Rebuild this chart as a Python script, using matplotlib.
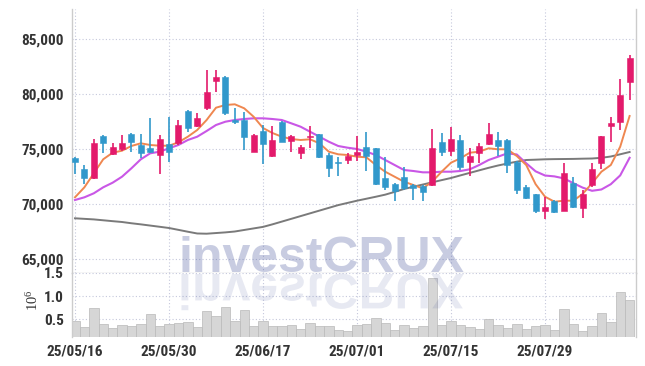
import matplotlib
matplotlib.use("Agg")
import matplotlib.pyplot as plt
import numpy as np
from matplotlib import font_manager
from matplotlib.font_manager import FontProperties
from matplotlib.textpath import TextPath
from matplotlib.patches import PathPatch
from matplotlib.transforms import Affine2D, IdentityTransform
from matplotlib.ticker import FuncFormatter

# ---------------- data ----------------
opens = [74150, 73150, 72390, 76210, 74520, 75000, 76360, 75390, 75120, 74450,
         75450, 75520, 78450, 77120, 78750, 81210, 81520, 77600, 77640, 74750,
         76650, 74390, 77480, 75730, 74660, 76060, 76340, 74450, 73800, 74000,
         74450, 75150, 75060, 72340, 71820, 72480, 71730, 71640, 71730, 75610,
         74820, 75820, 73850, 74610, 75450, 75820, 75820, 73850, 71570, 70910,
         69390, 70270, 69390, 71940, 69610, 71730, 73700, 77120, 77430, 81120]
highs = [74250, 73550, 75880, 76270, 75520, 76250, 76480, 76360, 77790, 76270,
         77880, 77640, 78550, 78250, 82180, 82180, 81600, 78750, 78340, 76360,
         77200, 77120, 77550, 76270, 75360, 77090, 76400, 74610, 74300, 74660,
         76210, 76570, 75100, 74300, 71900, 73340, 71820, 71700, 76820, 76430,
         77030, 76270, 75120, 75520, 77340, 76570, 75880, 73900, 71730, 70950,
         70610, 70360, 73750, 72480, 71270, 73750, 76200, 77880, 81340, 83550]
lows = [72730, 71820, 72300, 74660, 74450, 74850, 74750, 74150, 74610, 72730,
        73850, 75400, 76570, 77030, 78550, 80150, 78090, 77300, 74910, 74700,
        73600, 74300, 75600, 74750, 74060, 75060, 74200, 72430, 72550, 73610,
        73940, 73030, 71750, 71270, 70300, 71270, 70360, 70300, 71600, 74390,
        74390, 73090, 72570, 73700, 75360, 74360, 72850, 70910, 70500, 69210,
        68610, 69150, 69350, 69610, 68700, 71570, 73180, 75660, 76730, 79450]
closes = [73850, 72340, 75520, 75520, 75150, 75550, 75660, 74660, 74750, 75880,
          74750, 77180, 76880, 77850, 80150, 81520, 78250, 77500, 76120, 76270,
          75420, 75820, 75660, 76210, 75150, 76210, 74300, 73300, 73750, 74390,
          74700, 74390, 71790, 71520, 71210, 71480, 71500, 71120, 75060, 74750,
          75880, 73340, 74360, 75270, 76360, 75300, 73550, 71270, 70570, 69360,
          69750, 69300, 72790, 69750, 70910, 73150, 76180, 77340, 79910, 83250]
ma5 = [70610, 71518, 72790, 74064, 74664, 74845, 75273, 75518, 75364, 75300,
       75300, 75609, 76118, 76727, 77636, 78755, 79000, 79064, 78700, 77936,
       76909, 76455, 76118, 75909, 75818, 75882, 75518, 74755, 74518, 74455,
       74300, 74245, 73545, 72936, 72482, 72027, 71727, 71427, 72027, 72936,
       73755, 74155, 74664, 74755, 75064, 74973, 74973, 74360, 73545, 71800,
       70664, 70209, 70300, 70300, 70909, 71882, 72936, 73545, 75209, 78000]
ma20 = [70364, 70609, 70973, 71518, 71936, 72482, 73245, 74064, 74609, 74755,
        75064, 75364, 75818, 76118, 76636, 77182, 77482, 77636, 77727, 77790,
        77790, 77727, 77636, 77336, 77027, 76573, 76118, 75664, 75273, 75118,
        75000, 74755, 74455, 74000, 73545, 73090, 73000, 72880, 72880, 72936,
        72936, 73000, 73155, 73545, 74000, 74300, 74609, 74500, 73700, 72970,
        72590, 72510, 72330, 71900, 71490, 71200, 71320, 71800, 72600, 74200]
ma_long = [68700, 68650, 68600, 68520, 68440, 68364, 68250, 68150, 68040, 67930,
           67818, 67650, 67480, 67320, 67300, 67360, 67420, 67500, 67640, 67780,
           67920, 68150, 68400, 68650, 68900, 69150, 69400, 69650, 69900, 70100,
           70300, 70480, 70660, 70850, 71100, 71364, 71570, 71770, 71970, 72170,
           72364, 72600, 72830, 73060, 73290, 73500, 73680, 73850, 74000, 74030,
           74064, 74080, 74090, 74100, 74120, 74136, 74200, 74318, 74520, 74727]
volume = [0.463, 0.33, 0.736, 0.40, 0.307, 0.378, 0.356, 0.40, 0.614, 0.356,
          0.40, 0.427, 0.442, 0.335, 0.678, 0.571, 0.757, 0.463, 0.70, 0.356,
          0.463, 0.356, 0.356, 0.378, 0.292, 0.42, 0.356, 0.356, 0.270, 0.242,
          0.371, 0.399, 0.521, 0.414, 0.270, 0.371, 0.306, 0.356, 1.38, 0.371,
          0.47, 0.378, 0.328, 0.285, 0.50, 0.371, 0.306, 0.392, 0.285, 0.35,
          0.371, 0.270, 0.714, 0.399, 0.249, 0.356, 0.628, 0.442, 1.086, 0.914]
tick_pos = [0, 10, 20, 30, 40, 50]
tick_labels = ["25/05/16", "25/05/30", "25/06/17", "25/07/01", "25/07/15", "25/07/29"]
price_ticks = [65000, 70000, 75000, 80000, 85000]
vol_ticks = [0.5, 1.0, 1.5]

# ---------------- fonts ----------------
def find_condensed_bold():
    prefs = [("liberationsansnarrow-bold.", 11.5),
             ("notosans-condensedbold.", 11.0),
             ("robotocondensed-bold.", 11.0),
             ("notosans-semicondensedbold.", 10.5),
             ("opensans-condensedbold.", 10.5)]
    files = [f.fname for f in font_manager.fontManager.ttflist]
    bases = [fn.lower().replace(" ", "").replace("_", "").split("/")[-1] for fn in files]
    for p, sz in prefs:
        for fn, b in zip(files, bases):
            if b.startswith(p):
                return FontProperties(fname=fn), sz
    for fn, b in zip(files, bases):
        if ("narrow" in b or "condensed" in b) and "bold" in b and "semibold" not in b \
                and "extrabold" not in b and "oblique" not in b and "italic" not in b \
                and "dejavu" not in b:
            return FontProperties(fname=fn), 11.0
    return FontProperties(family="Liberation Sans", weight="bold"), 9.5

LABEL_FP, LABEL_SIZE = find_condensed_bold()
avail = {f.name for f in font_manager.fontManager.ttflist}
wm_font = "Liberation Sans" if "Liberation Sans" in avail else "DejaVu Sans"

UP = "#e31a6b"
DOWN = "#3198cb"
GRID = "#c5c8dc"
SPINE = "#cccccc"
TXT = "#333333"

W, H = 645, 366
fig = plt.figure(figsize=(W / 100, H / 100), dpi=100)
fig.patch.set_facecolor("white")

def fx(px):
    return px / W

def fy(py):
    return 1 - py / H

ax = fig.add_axes([fx(72), fy(272.7), fx(636) - fx(72), fy(9) - fy(272.7)])
axv = fig.add_axes([fx(72), fy(337.3), fx(636) - fx(72), fy(272.7) - fy(337.3)], sharex=ax)

n = len(opens)
x = np.arange(n)
o = np.array(opens, float)
c = np.array(closes, float)
hi = np.array(highs, float)
lo = np.array(lows, float)
cols = [UP if cc >= oo else DOWN for oo, cc in zip(o, c)]

# moving averages (drawn under the candles)
ax.plot(x, ma_long, color="#7a7a7a", lw=1.4, zorder=2)
ax.plot(x, ma20, color="#c957e6", lw=1.5, zorder=2)
ax.plot(x, ma5, color="#ef8750", lw=1.4, zorder=2)

# candles
ax.vlines(x, lo, hi, colors=cols, lw=1.2, zorder=3)
body_bottom = np.minimum(o, c)
body_h = np.maximum(np.abs(c - o), 60)
ax.bar(x, body_h, bottom=body_bottom, width=0.64, color=cols,
       edgecolor=cols, linewidth=0.4, zorder=4)

ax.set_xlim(-0.32, n - 1 + 0.68)
ax.set_ylim(63755, 87727)
ax.set_yticks(price_ticks)
ax.yaxis.set_major_formatter(FuncFormatter(lambda v, p: f"{int(v):,}"))
ax.set_xticks(tick_pos)
ax.tick_params(axis="x", labelbottom=False, length=0)
ax.tick_params(axis="y", length=0, pad=6, labelcolor=TXT)
for lab in ax.get_yticklabels():
    lab.set_fontproperties(LABEL_FP)
    lab.set_fontsize(LABEL_SIZE)
ax.grid(True, color=GRID, lw=0.8, linestyle=(0, (1, 2)))
ax.set_axisbelow(True)
ax.spines["top"].set_visible(False)
for s in ("left", "right", "bottom"):
    ax.spines[s].set_color(SPINE)
    ax.spines[s].set_linewidth(1.0)

# volume
axv.bar(x, volume, width=1.0, color="#d6d6d6", edgecolor="#b9b9b9", linewidth=0.5, zorder=2)
axv.set_ylim(0.114, 1.5)
axv.set_yticks(vol_ticks)
axv.yaxis.set_major_formatter(FuncFormatter(lambda v, p: f"{v:.1f}"))
axv.set_xticks(tick_pos)
axv.set_xticklabels(tick_labels)
axv.tick_params(axis="both", length=0, labelcolor=TXT)
axv.tick_params(axis="y", pad=6)
axv.tick_params(axis="x", pad=5)
for lab in axv.get_yticklabels() + axv.get_xticklabels():
    lab.set_fontproperties(LABEL_FP)
    lab.set_fontsize(LABEL_SIZE)
axv.grid(True, color=GRID, lw=0.8, linestyle=(0, (1, 2)))
axv.set_axisbelow(True)
axv.spines["top"].set_visible(False)
axv.spines["bottom"].set_visible(False)
for s in ("left", "right"):
    axv.spines[s].set_color(SPINE)
    axv.spines[s].set_linewidth(1.0)

fig.text(fx(33), fy(300), r"$\mathregular{10^6}$", rotation=90, ha="center", va="center",
         fontsize=10.5, color=TXT, family="Liberation Serif")

# watermark and its reflection
WM_TEXT = "investCRUX"
WM_SIZE = 36
wm_x, wm_base = 178, 272
fig.text(fx(wm_x), fy(wm_base), WM_TEXT, fontsize=WM_SIZE, fontweight="bold",
         family=wm_font, color=(60 / 255, 75 / 255, 150 / 255), alpha=0.28,
         ha="left", va="baseline", zorder=10)
fp = FontProperties(family=wm_font, weight="bold")
em = WM_SIZE * fig.dpi / 72
tp = TextPath((0, 0), WM_TEXT, size=em, prop=fp)
tr = Affine2D().scale(1, -1).translate(wm_x, H - wm_base - 2)
refl = PathPatch(tr.transform_path(tp), transform=IdentityTransform(),
                 facecolor=(60 / 255, 75 / 255, 150 / 255), edgecolor="none",
                 alpha=0.12, zorder=10)
fig.add_artist(refl)

fig.savefig("out.png", dpi=100, facecolor="white")
